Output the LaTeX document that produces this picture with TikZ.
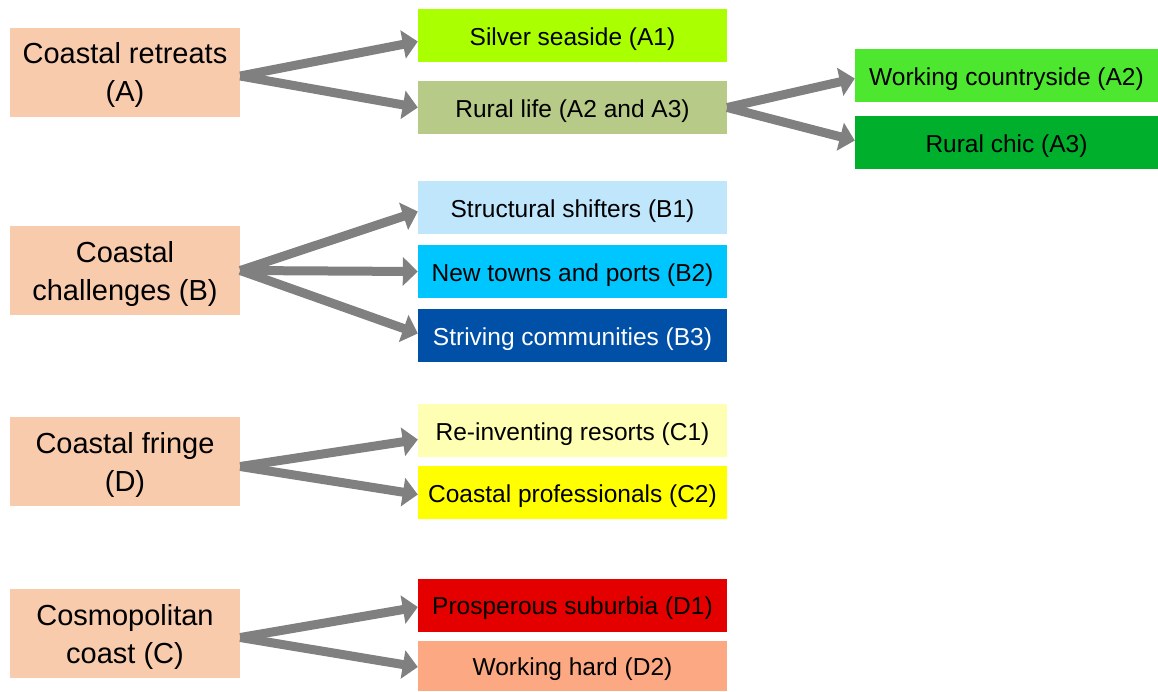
\documentclass[tikz,border=0pt]{standalone}
\usepackage{fontspec}
\setmainfont{Liberation Sans}
\usetikzlibrary{arrows.meta,positioning}
\definecolor{Peach}{HTML}{F8CBAD}
\definecolor{Lime}{HTML}{AAFF00}
\definecolor{Olive}{HTML}{B7CA88}
\definecolor{BrightGreen}{HTML}{4DE72F}
\definecolor{DeepGreen}{HTML}{00B02C}
\definecolor{PaleSky}{HTML}{C0E6FC}
\definecolor{Sky}{HTML}{00C6FF}
\definecolor{Navy}{HTML}{0050A8}
\definecolor{PaleYellow}{HTML}{FFFFB3}
\definecolor{Yellow}{HTML}{FFFF00}
\definecolor{Red}{HTML}{E50000}
\definecolor{Salmon}{HTML}{FCA882}
\definecolor{Arrow}{HTML}{808080}
\tikzset{
  group/.style={fill=Peach,minimum width=230pt,minimum height=89pt,inner sep=0pt,align=center,
    text depth=0pt,font=\fontsize{29}{38}\selectfont},
  sub/.style={minimum width=309pt,minimum height=53pt,inner sep=0pt,align=center,
    text height=19pt,text depth=0pt,font=\fontsize{24.5}{30}\selectfont},
  subr/.style={sub,minimum width=303pt},
  link/.style={-{Triangle[length=15pt,width=28pt]},draw=Arrow,line width=9pt},
}

\begin{document}
\begin{tikzpicture}[x=1pt,y=-1pt]
    \useasboundingbox (0,0) rectangle (1158,691);
    % groups
    \node[group] (A) at (125,72) {Coastal retreats\\(A)};
    \node[group] (B) at (125,270.5) {Coastal\\challenges (B)};
    \node[group] (D) at (125,461.5) {Coastal fringe\\(D)};
    \node[group] (C) at (125,633.5) {Cosmopolitan\\coast (C)};
    % subgroups
    \node[sub,fill=Lime] (A1) at (572.5,35.5) {Silver seaside (A1)};
    \node[sub,fill=Olive] (A23) at (572.5,107.5) {Rural life (A2 and A3)};
    \node[subr,fill=BrightGreen] (A2) at (1006.5,75.5) {Working countryside (A2)};
    \node[subr,fill=DeepGreen] (A3) at (1006.5,142.5) {Rural chic (A3)};
    \node[sub,fill=PaleSky] (B1) at (572.5,207.5) {Structural shifters (B1)};
    \node[sub,fill=Sky] (B2) at (572.5,271.5) {New towns and ports (B2)};
    \node[sub,fill=Navy,text=white] (B3) at (572.5,335.5) {Striving communities (B3)};
    \node[sub,fill=PaleYellow] (C1) at (572.5,430.5) {Re-inventing resorts (C1)};
    \node[sub,fill=Yellow] (C2) at (572.5,492.5) {Coastal professionals (C2)};
    \node[sub,fill=Red] (D1) at (572.5,605) {Prosperous suburbia (D1)};
    \node[sub,fill=Salmon,minimum height=50pt] (D2) at (572.5,666) {Working hard (D2)};
    % arrows
    \draw[link] ([yshift=-4pt]A.east) -- ([yshift=-6pt]A1.west);
    \draw[link] ([yshift=-4pt]A.east) -- (A23.west);
    \draw[link] (A23.east) -- ([yshift=-3pt]A2.west);
    \draw[link] (A23.east) -- ([yshift=2pt]A3.west);
    \draw[link] (B.east) -- ([yshift=-4pt]B1.west);
    \draw[link] (B.east) -- (B2.west);
    \draw[link] (B.east) -- ([yshift=2pt]B3.west);
    \draw[link] ([yshift=-5pt]D.east) -- ([yshift=-9pt]C1.west);
    \draw[link] ([yshift=-5pt]D.east) -- ([yshift=-2pt]C2.west);
    \draw[link] ([yshift=-4pt]C.east) -- ([yshift=-2pt]D1.west);
    \draw[link] ([yshift=-4pt]C.east) -- ([yshift=-1pt]D2.west);
  \end{tikzpicture}
\end{document}
